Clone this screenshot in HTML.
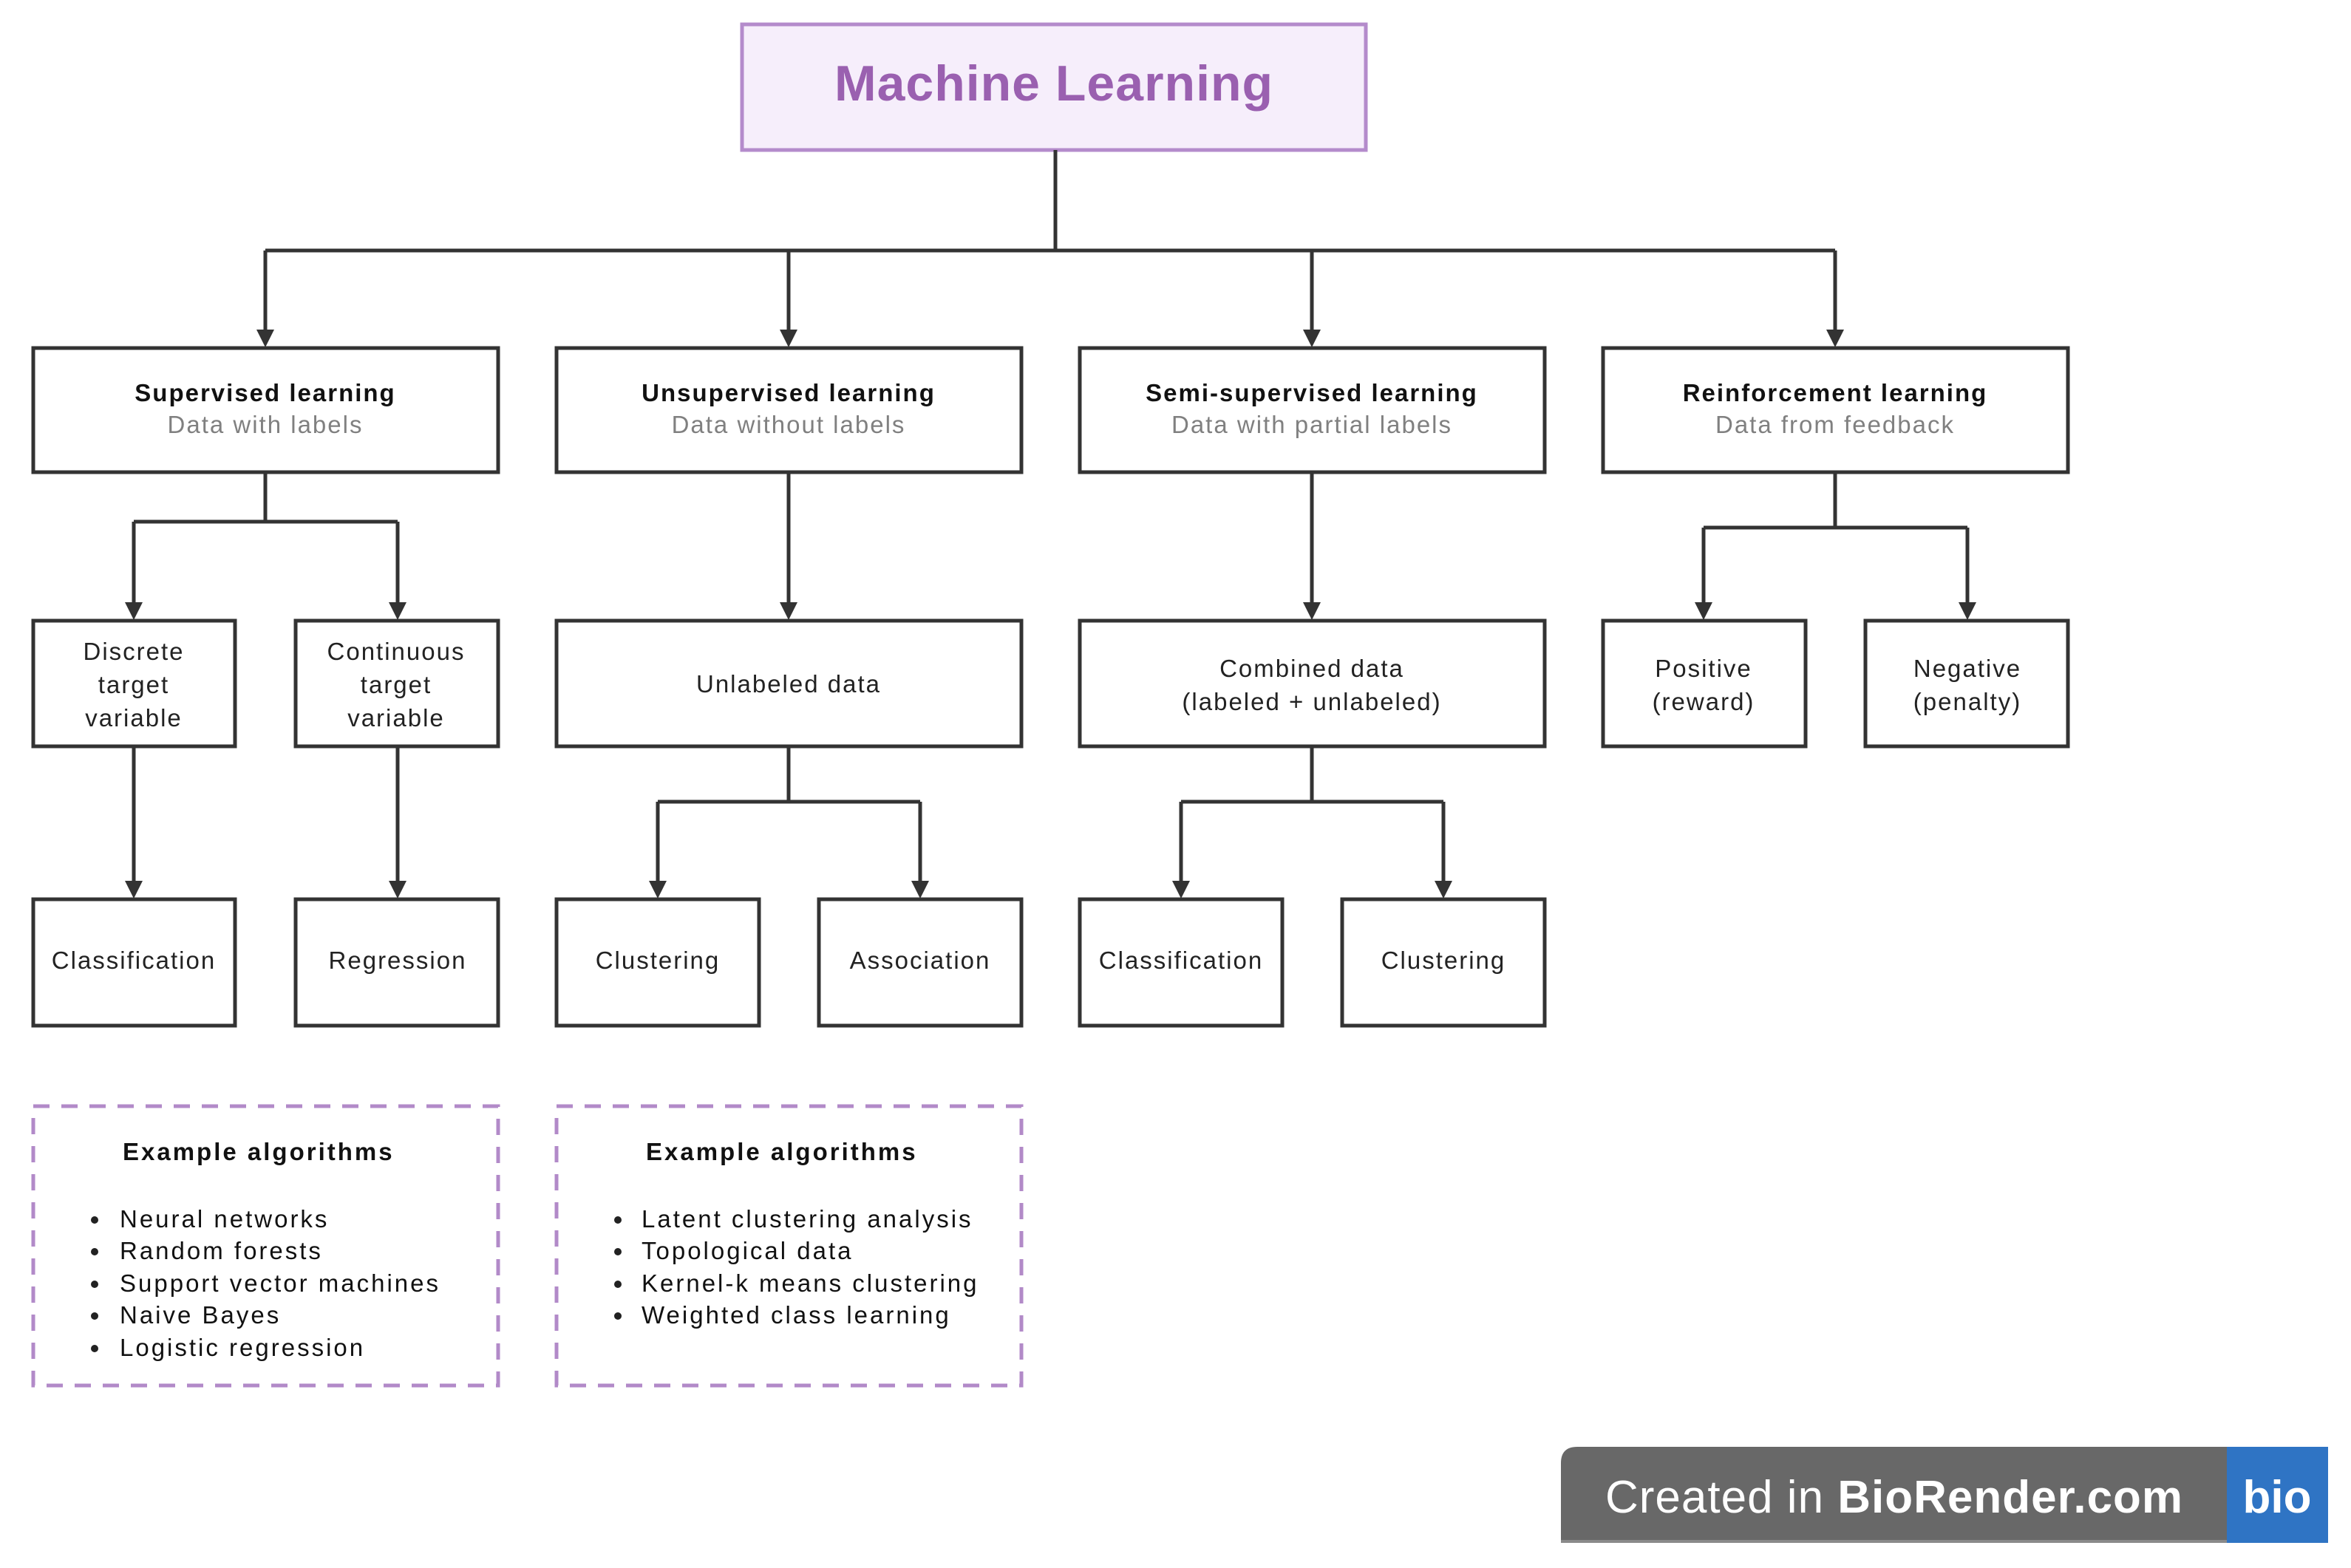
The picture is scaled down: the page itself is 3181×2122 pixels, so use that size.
<!DOCTYPE html>
<html><head><meta charset="utf-8"><style>
html,body{margin:0;padding:0;background:#fff;}
svg{display:block;}
text{font-family:"Liberation Sans",sans-serif;}
</style></head><body>
<svg width="3181" height="2122" viewBox="0 0 3181 2122" xmlns="http://www.w3.org/2000/svg">
<rect width="3181" height="2122" fill="#fff"/>
<!-- Title -->
<rect x="1004" y="33" width="844" height="170" fill="#f6eefb" stroke="#b48bcb" stroke-width="5"/>
<text x="1426" y="136" font-size="68" font-weight="bold" fill="#9a60b0" text-anchor="middle" letter-spacing="1">Machine Learning</text>

<g stroke="#333" stroke-width="5" fill="none">
<path d="M1428 203V339M359 339H2483M359 339V452M1067 339V452M1775 339V452M2483 339V452"/>
<path d="M359 639V706M181 706H538M181 706V820M538 706V820"/>
<path d="M1067 639V820M1775 639V820"/>
<path d="M2483 639V714M2305 714H2662M2305 714V820M2662 714V820"/>
<path d="M181 1010V1197M538 1010V1197"/>
<path d="M1067 1010V1085M890 1085H1245M890 1085V1197M1245 1085V1197"/>
<path d="M1775 1010V1085M1598 1085H1953M1598 1085V1197M1953 1085V1197"/>
</g>
<g fill="#333">
<path d="M347 446h24l-12 24z"/><path d="M1055 446h24l-12 24z"/><path d="M1763 446h24l-12 24z"/><path d="M2471 446h24l-12 24z"/>
<path d="M169 815h24l-12 24z"/><path d="M526 815h24l-12 24z"/><path d="M1055 815h24l-12 24z"/><path d="M1763 815h24l-12 24z"/><path d="M2293 815h24l-12 24z"/><path d="M2650 815h24l-12 24z"/>
<path d="M169 1192h24l-12 24z"/><path d="M526 1192h24l-12 24z"/><path d="M878 1192h24l-12 24z"/><path d="M1233 1192h24l-12 24z"/><path d="M1586 1192h24l-12 24z"/><path d="M1941 1192h24l-12 24z"/>
</g>

<g fill="#fff" stroke="#333" stroke-width="5">
<rect x="45" y="471" width="629" height="168"/>
<rect x="753" y="471" width="629" height="168"/>
<rect x="1461" y="471" width="629" height="168"/>
<rect x="2169" y="471" width="629" height="168"/>
<rect x="45" y="840" width="273" height="170"/>
<rect x="400" y="840" width="274" height="170"/>
<rect x="753" y="840" width="629" height="170"/>
<rect x="1461" y="840" width="629" height="170"/>
<rect x="2169" y="840" width="274" height="170"/>
<rect x="2524" y="840" width="274" height="170"/>
<rect x="45" y="1217" width="273" height="171"/>
<rect x="400" y="1217" width="274" height="171"/>
<rect x="753" y="1217" width="274" height="171"/>
<rect x="1108" y="1217" width="274" height="171"/>
<rect x="1461" y="1217" width="274" height="171"/>
<rect x="1816" y="1217" width="274" height="171"/>
</g>

<g font-size="33" text-anchor="middle" letter-spacing="2">
<g font-weight="bold" fill="#111">
<text x="359" y="543">Supervised learning</text>
<text x="1067" y="543">Unsupervised learning</text>
<text x="1775" y="543">Semi-supervised learning</text>
<text x="2483" y="543">Reinforcement learning</text>
</g>
<g fill="#808080">
<text x="359" y="586">Data with labels</text>
<text x="1067" y="586">Data without labels</text>
<text x="1775" y="586">Data with partial labels</text>
<text x="2483" y="586">Data from feedback</text>
</g>
<g fill="#222">
<text x="181" y="893">Discrete</text><text x="181" y="938">target</text><text x="181" y="983">variable</text>
<text x="536" y="893">Continuous</text><text x="536" y="938">target</text><text x="536" y="983">variable</text>
<text x="1067" y="937">Unlabeled data</text>
<text x="1775" y="916">Combined data</text><text x="1775" y="961">(labeled + unlabeled)</text>
<text x="2305" y="916">Positive</text><text x="2305" y="961">(reward)</text>
<text x="2662" y="916">Negative</text><text x="2662" y="961">(penalty)</text>
<text x="181" y="1311">Classification</text>
<text x="538" y="1311">Regression</text>
<text x="890" y="1311">Clustering</text>
<text x="1245" y="1311">Association</text>
<text x="1598" y="1311">Classification</text>
<text x="1953" y="1311">Clustering</text>
</g>
</g>

<g fill="none" stroke="#b28ac8" stroke-width="5" stroke-dasharray="22 16">
<rect x="45" y="1497" width="629" height="378"/>
<rect x="753" y="1497" width="629" height="378"/>
</g>
<g font-size="33" fill="#111" letter-spacing="3">
<text x="166" y="1570" font-weight="bold">Example algorithms</text>
<text x="874" y="1570" font-weight="bold">Example algorithms</text>
<text x="162" y="1661">Neural networks</text>
<text x="162" y="1704">Random forests</text>
<text x="162" y="1748">Support vector machines</text>
<text x="162" y="1791">Naive Bayes</text>
<text x="162" y="1835">Logistic regression</text>
<text x="868" y="1661">Latent clustering analysis</text>
<text x="868" y="1704">Topological data</text>
<text x="868" y="1748">Kernel-k means clustering</text>
<text x="868" y="1791">Weighted class learning</text>
</g>
<g fill="#222">
<circle cx="128" cy="1651" r="5"/><circle cx="128" cy="1694" r="5"/><circle cx="128" cy="1738" r="5"/><circle cx="128" cy="1781" r="5"/><circle cx="128" cy="1825" r="5"/>
<circle cx="836" cy="1651" r="5"/><circle cx="836" cy="1694" r="5"/><circle cx="836" cy="1738" r="5"/><circle cx="836" cy="1781" r="5"/>
</g>

<!-- badge -->
<path d="M2134 1958H3013V2088H2112V1980Q2112 1958 2134 1958Z" fill="#686868"/>
<rect x="2112" y="2084" width="901" height="4" fill="#8a8a8a"/>
<rect x="3013" y="1958" width="137" height="130" fill="#2f74c4"/>
<text x="2172" y="2047" font-size="62" fill="#fff" letter-spacing="1">Created in <tspan font-weight="bold">BioRender.com</tspan></text>
<text x="3081" y="2047" font-size="62" font-weight="bold" fill="#fff" text-anchor="middle">bio</text>
</svg>
</body></html>
